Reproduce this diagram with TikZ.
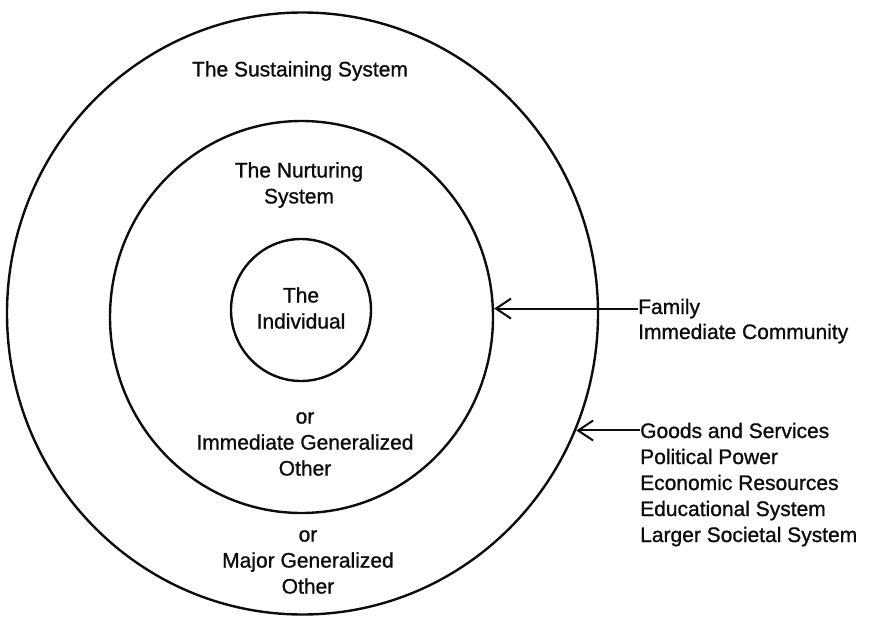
\documentclass[tikz,border=0pt]{standalone}
\usepackage{fontspec}
\setmainfont{Liberation Sans}
\newfontfamily\scanfont{Liberation Sans}[FakeBold=1]
\usetikzlibrary{arrows.meta,positioning,shapes.geometric}
\definecolor{scanInk}{RGB}{12,12,12}

\begin{document}
\begin{tikzpicture}[x=1pt,y=-1pt,
  ring/.style={draw=scanInk, line width=2.4pt, ellipse, inner sep=0pt},
  ringText/.style={text=scanInk, font=\scanfont\fontsize{21}{26}\selectfont, inner sep=0pt, align=center},
  sideText/.style={text=scanInk, font=\scanfont\fontsize{21}{26}\selectfont, inner sep=0pt, anchor=base west},
  pointer/.style={draw=scanInk, line width=2pt, {Straight Barb[length=15pt,width=20pt,line width=2pt]}-}]
\useasboundingbox (0,0) rectangle (873,618);

% the three rings
\node[ring, minimum width=591pt, minimum height=602pt] (sustain) at (302.5,313.5) {};
\node[ring, minimum width=383pt, minimum height=392pt] (nurture) at (301.5,317) {};
\node[ring, minimum width=140pt, minimum height=142pt] (person) at (301,310) {};

% ring labels
\node[ringText] (sustainLbl) at (300,71) {The Sustaining System};
\node[ringText] (nurtureLbl) at (299,185) {The Nurturing\\System};
\node[ringText] (personLbl) at (301,308) {The\\Individual};
\node[ringText] (nearOther) at (305,444) {or\\Immediate Generalized\\Other};
\node[ringText] (majorOther) at (308,562) {or\\Major Generalized\\Other};

% side lists
\node[sideText] (family) at (638,314) {Family};
\node[sideText] (community) at ([yshift=-25pt]family.base west) {Immediate Community};
\node[sideText] (goods) at (640,438) {Goods and Services};
\foreach \nm/\txt [count=\k] in {power/Political Power, economy/Economic Resources,
    school/Educational System, society/Larger Societal System}
  \node[sideText] (\nm) at ([yshift={-26pt*\k}]goods.base west) {\txt};

% pointers
\draw[pointer] (family.west -| nurture.east) -- (family.west);
\draw[pointer] (goods.west -| sustain.-23) -- (goods.west);
\end{tikzpicture}
\end{document}
